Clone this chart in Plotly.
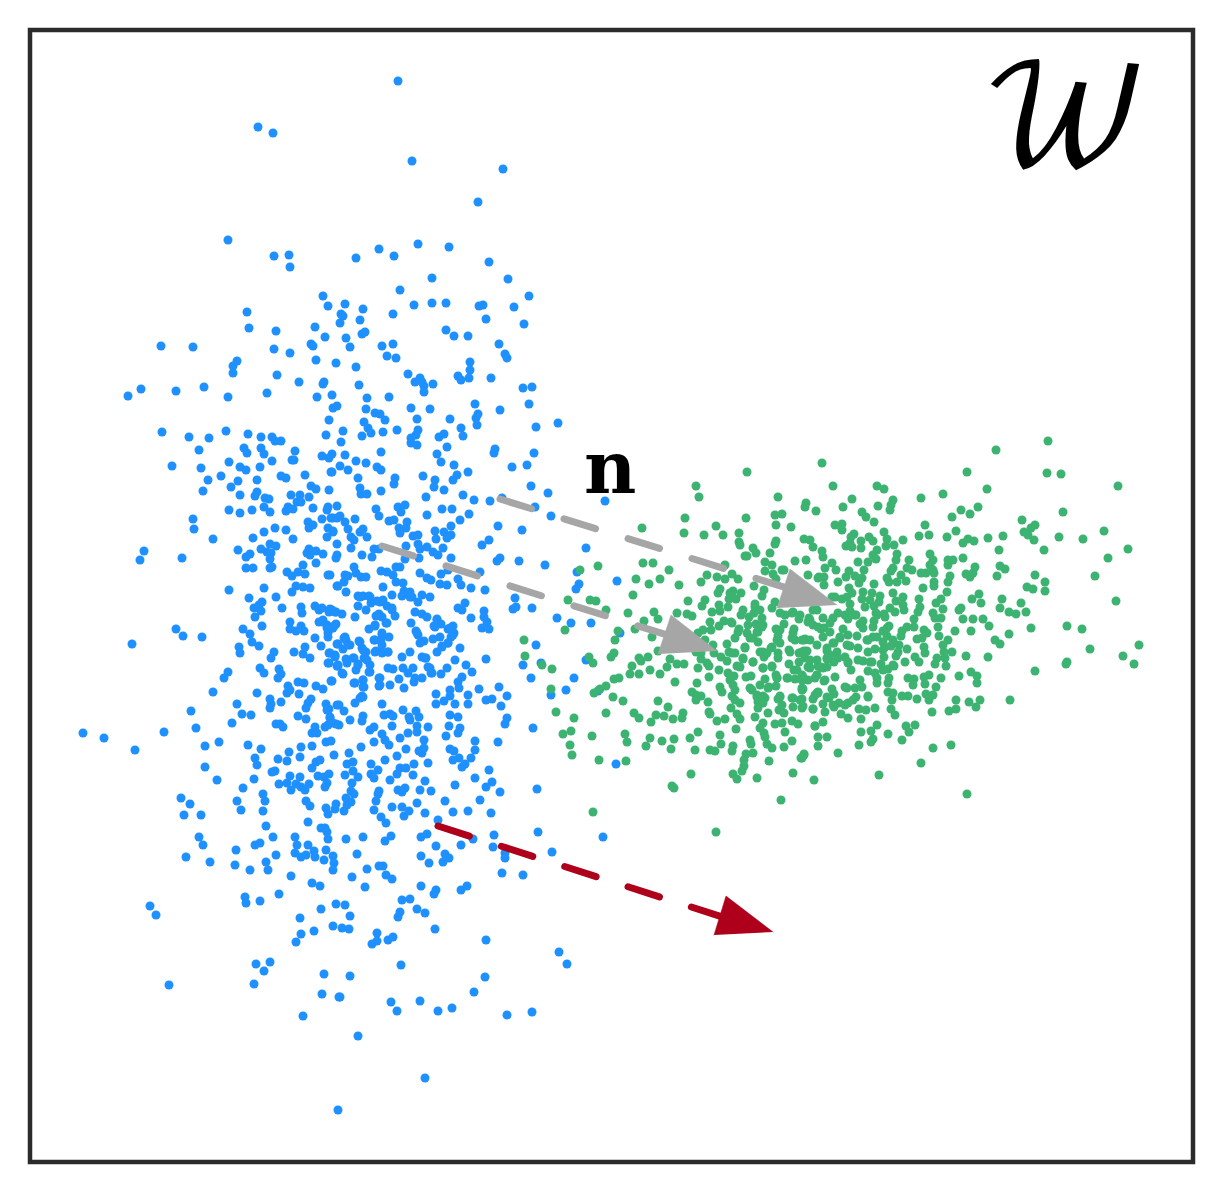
import plotly.graph_objects as go

# point positions, x and y in picture pixels
blue_points = [
    (258,127),(273,133),(228,240),(274,256),(289,255),(290,267),(247,312),(249,328),(276,331),(315,327),
    (161,346),(193,347),(274,349),(290,353),(311,344),(313,346),(316,360),(237,361),(233,366),(233,373),
    (277,375),(299,382),(141,389),(128,396),(176,391),(204,387),(228,397),(267,393),(317,397),(162,432),
    (189,437),(209,438),(226,431),(248,434),(261,437),
    (398,81),(412,161),(503,169),(478,202),(418,244),(449,247),(379,249),(394,256),(356,258),(489,262),
    (432,278),(508,279),(400,290),(323,296),(529,296),(328,306),(345,304),(414,305),(432,303),(446,303),
    (479,306),(483,305),(363,309),(514,307),(341,314),(343,316),(393,314),(360,320),(340,323),(486,319),
    (524,324),(325,337),(346,338),(362,334),(365,332),(446,330),(454,336),(468,336),(393,344),(382,346),
    (350,347),(499,344),(505,354),(507,358),(387,356),(396,358),(336,363),(356,367),(470,362),(470,370),
    (458,376),(461,380),(469,378),(491,378),(408,374),(420,378),(415,382),(422,382),(424,386),(424,392),
    (433,384),(523,388),(532,387),(324,382),(323,384),(359,385),(332,395),(367,398),(389,397),(475,404),
    (529,404),(333,408),(337,406),(366,409),(375,413),(380,414),(385,420),(411,408),(430,409),(417,419),
    (450,419),(478,414),(476,418),(477,425),(500,410),(329,420),(364,422),(368,428),(371,433),(383,432),
    (397,430),(418,430),(416,435),(411,438),(411,443),(417,445),(439,437),(444,434),(461,428),(463,436),
    (536,427),(558,423),(326,435),(343,431),(362,436),(341,442),(447,447),(495,449),(494,453),(534,453),
    (322,456),(332,454),(345,455),(381,452),(437,454),
    (272,437),(275,441),(281,441),(199,450),(244,448),(247,453),(261,448),(264,454),(295,451),(172,466),
    (201,468),(229,462),(240,467),(246,470),(260,467),(272,461),(292,460),(294,460),(329,458),(221,476),
    (208,480),(238,481),(231,487),(257,480),(281,476),(286,478),(305,475),(331,472),(203,491),(240,495),
    (255,496),(257,492),(265,498),(269,499),(291,495),(300,495),(311,486),(316,489),(329,490),(309,497),
    (297,502),(301,502),(229,510),(240,513),(252,510),(264,507),(270,512),(286,511),(288,507),(293,509),
    (313,508),(328,507),(327,510),(337,506),(193,519),(194,529),(322,519),(331,518),(337,518),(308,522),
    (313,525),(309,528),(328,528),(333,531),(275,528),(286,530),(264,532),(253,538),(293,539),(213,539),
    (327,537),(337,544),(270,544),(276,546),(261,549),(267,552),(238,550),(250,554),(246,557),(271,553),
    (270,559),(309,549),(316,551),(307,553),(310,555),(323,554),(337,555),(336,558),(144,551),(140,560),
    (182,558),(316,563),(246,568),(253,568),(270,568),(272,567),(287,572),(292,576),(298,572),(303,565),
    (305,574),(328,575),(337,586),(264,588),(296,586),(292,592),(303,587),(310,588),(229,590),(249,598),
    (276,597),(262,602),(259,605),(254,608),(261,611),(282,608),(255,617),(301,607),(302,613),(315,606),
    (319,610),(322,608),(330,609),(336,612),(329,612),(290,622),(290,629),(296,631),(301,626),(304,631),
    (319,622),(323,620),(327,625),(336,624),(333,628),(328,633),(262,626),(243,629),(250,634),(176,629),
    (183,636),(202,637),(132,644),(252,642),(259,646),(239,647),(240,653),(315,638),(328,637),(337,644),
    (321,646),(274,652),(271,658),(294,652),(305,647),(303,654),(310,658),(329,653),(335,656),(329,663),
    (337,666),(260,668),(264,673),(279,669),(281,674),(278,678),(228,672),(224,678),(298,682),(304,683),
    (331,681),(316,686),(323,689),(288,686),(290,690),(287,693),(299,694),(213,692),(257,693),(270,699),
    (271,704),(270,708),(281,702),(311,699),(308,703),(306,708),(326,704),(329,709),(337,705),(237,704),
    (191,711),(242,714),(251,715),(298,716),(306,719),(330,717),
    (356,461),(366,463),(340,466),(348,470),(377,467),(381,470),(332,472),(358,478),(395,478),(394,484),
    (423,476),(435,480),(434,487),(444,490),(454,465),(457,475),(453,480),(468,472),(441,462),(512,467),
    (527,465),(531,486),(548,493),(360,488),(361,494),(367,494),(381,491),(426,497),(463,495),(474,500),
    (490,501),(502,498),(535,507),(551,516),(376,509),(379,516),(398,507),(405,505),(401,512),(442,509),
    (452,509),(427,515),(469,514),(460,520),(451,526),(498,526),(522,530),(340,516),(333,518),(355,519),
    (345,522),(348,529),(389,521),(394,520),(407,522),(399,528),(406,528),(400,533),(363,529),(360,532),
    (333,532),(367,537),(351,537),(354,540),(435,531),(436,539),(444,532),(451,535),(447,538),(413,536),
    (418,535),(482,545),(489,540),(351,548),(374,549),(379,549),(406,546),(418,544),(420,549),(427,547),
    (443,548),(433,552),(438,555),(419,558),(362,555),(372,557),(405,559),(451,558),(497,561),(500,558),
    (519,561),(545,565),(354,567),(396,567),(400,567),(381,571),(387,572),(393,575),(420,573),(441,574),
    (448,570),(480,572),(427,578),(431,580),(330,575),(345,575),(348,576),(356,573),(361,577),(366,577),
    (396,582),(403,583),(344,582),(338,586),(383,587),(440,584),(447,585),(458,579),(461,585),(471,588),
    (485,590),(346,592),(392,595),(404,591),(410,592),(402,596),(412,597),(422,595),(430,597),(418,602),
    (358,596),(363,596),(369,596),(358,606),(371,603),(377,601),(383,600),(387,606),(392,610),(366,610),
    (332,610),(342,614),(379,614),(376,616),(395,616),(355,617),(382,617),(386,623),(375,626),(369,629),
    (332,628),(415,612),(422,614),(427,617),(411,623),(437,619),(441,624),(434,626),(453,626),(448,629),
    (454,633),(451,637),(458,608),(462,610),(465,603),(484,611),(484,617),(487,622),(482,628),(489,629),
    (471,618),(515,598),(513,609),(516,607),(532,608),(557,618),(416,631),(418,635),(424,641),(433,639),
    (440,637),(442,646),(448,643),(460,648),(437,652),(410,652),(402,657),(536,645),(382,633),(389,637),
    (374,640),(381,640),(344,638),(359,641),(338,644),(346,640),(350,645),(343,649),(362,648),(366,652),
    (376,651),(382,653),(388,652),(335,655),(346,659),(354,658),(347,663),(364,658),(338,666),(358,664),
    (370,665),(356,670),(369,672),(343,674),(388,668),(393,669),(403,668),(413,668),(408,673),(422,657),
    (426,658),(430,668),(431,673),(447,668),(455,660),(466,665),(472,672),(441,674),(486,659),(523,665),
    (541,663),(531,678),(422,678),(415,678),(414,682),(399,679),(379,678),(379,686),(390,685),(404,688),
    (354,683),(363,680),(364,687),(332,681),(458,682),(462,677),(459,688),(479,689),(499,687),(450,690),
    (436,694),(450,696),(444,701),(455,704),(436,704),(468,695),(468,704),(486,700),(492,699),(507,696),
    (501,706),(362,696),(382,704),(355,703),(339,705),(344,711),(403,710),(416,711),(419,717),(384,715),
    (390,714),(393,716),(409,717),(363,716),(450,715),(458,717),(507,718),
    (232,723),(196,728),(164,732),(83,733),(104,738),(135,750),(219,742),(205,746),(248,745),(261,749),
    (255,758),(257,765),(205,767),(278,759),(287,761),(289,752),(301,747),(312,746),(300,757),(272,772),
    (275,771),(217,780),(254,779),(243,788),(279,784),(290,776),(300,777),(287,783),(296,784),(291,790),
    (301,787),(309,784),(305,790),(312,768),(316,762),(320,760),(334,755),(326,742),(331,741),(318,776),
    (324,777),(329,774),(327,783),(325,787),(276,724),(280,724),(283,727),(315,727),(312,733),(317,733),
    (325,727),(328,725),(336,724),(330,718),(327,710),
    (181,798),(190,804),(184,815),(201,815),(199,837),(203,845),(186,857),(210,862),(237,801),(241,810),
    (263,794),(265,801),(263,811),(266,826),(273,837),(255,845),(260,843),(236,850),(235,865),(250,870),
    (266,862),(268,870),(276,855),(291,876),(306,801),(310,806),(308,822),(321,828),(325,828),(327,832),
    (328,839),(295,837),(297,845),(308,845),(295,853),(301,857),(306,855),(314,851),(315,857),(326,850),
    (324,860),(333,856),(334,863),(333,870),(326,808),(328,814),(336,804),(335,809),(312,883),(320,886),
    (279,894),(245,897),(246,903),(260,901),(150,906),(156,915),(300,918),(321,909),(336,904),(333,926),
    (301,934),(314,931),(296,942),(256,964),(270,962),(264,971),(254,984),(169,985),(324,974),(322,994),
    (339,997),(303,1016),(338,1110),
    (333,723),(339,725),(350,720),(362,721),(410,720),(417,726),(428,727),(449,726),(460,728),(458,733),
    (446,736),(505,724),(533,728),(370,730),(374,727),(392,726),(382,734),(385,740),(389,745),(374,742),
    (361,747),(400,738),(408,733),(417,732),(424,740),(406,749),(424,748),(419,751),(422,753),(349,753),
    (475,741),(498,742),(450,749),(454,751),(475,750),(471,758),(459,758),(453,760),(465,764),(462,767),
    (385,760),(397,756),(428,763),(414,764),(371,764),(353,762),(347,764),(345,775),(353,771),(358,777),
    (378,770),(371,774),(374,778),(390,780),(397,774),(400,768),(406,768),(413,775),(489,770),(475,778),
    (352,783),(425,781),(455,785),(492,782),(486,787),(500,792),(537,789),(379,791),(351,791),(354,794),
    (398,790),(405,788),(402,792),(420,790),(431,791),(378,794),(376,801),(346,798),(351,802),(347,805),
    (344,811),(392,807),(402,807),(374,810),(417,803),(445,801),(480,800),(409,811),(404,816),(425,813),
    (453,812),(468,811),(491,813),(381,817),(386,823),(438,820),(363,837),(346,839),(391,836),(385,841),
    (421,837),(427,834),(473,839),(494,835),(538,832),(603,837),(436,846),(461,845),(493,847),(505,853),
    (357,854),(421,856),(445,854),(449,858),(443,862),(429,863),(505,858),(552,852),(379,866),(383,866),
    (367,869),(352,877),(386,875),(392,879),(502,873),(523,875),(365,887),(421,886),(436,890),(434,894),
    (461,890),(467,886),(402,900),(410,899),(345,905),(417,909),(425,913),(400,912),(398,917),(350,916),
    (342,928),(349,929),(435,929),(377,933),(377,941),(372,944),(388,940),(393,937),(486,940),(559,952),
    (567,964),(401,965),(350,976),(485,977),(474,992),(340,997),(391,1002),(397,1011),(420,1001),(438,1011),
    (452,1008),(507,1015),(532,1012),(358,1036),(425,1078),
    (605,501),(586,548),(577,572),(579,584),(576,589),(617,581),(571,623),(591,623),(620,633),(574,678),
    (566,690),(586,660),(551,695),(598,691),(616,764),
    # centre of the blue cloud, second pass
    (360,597),(370,597),(380,602),(392,608),(378,615),(387,623),(375,625),(382,635),(375,640),(382,645),
    (388,652),(375,652),(345,637),(348,645),(360,642),(363,650),(367,660),(353,658),(347,660),(358,665),
    (370,672),(342,673),(338,665),(335,657),(330,653),(328,663),(327,628),(335,625),(323,622),(330,610),
    (335,612),(363,680),(363,687),(355,683),(380,678),(380,685),(417,633),(420,643),(425,658),(428,667),
    (432,673),(450,628),(453,635),(448,643),(442,647),(437,620),(435,627),(407,593),(410,597),(363,697),
    (360,698),
]

green_points = [
    (747,472),(822,463),(696,486),(699,497),(778,497),(806,503),(805,507),(816,511),(685,518),(746,518),
    (775,515),(782,514),(776,525),(791,527),(642,528),(684,533),(704,535),(716,526),(723,535),(739,533),
    (739,542),(740,545),(776,541),(775,544),(804,539),(810,540),(813,547),(753,548),(756,553),(770,553),
    (745,556),(747,556),(822,551),(823,557),(795,561),(806,560),(643,563),(653,563),(669,570),(725,565),
    (765,562),(772,565),(765,571),(782,570),(784,570),(825,568),(598,566),(580,570),(636,579),(660,579),
    (649,584),(679,585),(707,575),(701,582),(717,577),(725,579),(732,574),(738,579),(773,574),(776,579),
    (754,586),(764,590),(808,575),(818,578),(824,577),(633,595),(568,600),(590,600),(596,601),(606,610),
    (688,601),(720,589),(718,593),(730,593),(733,591),(741,593),(729,599),(736,599),(762,596),(705,600),
    (702,606),(719,605),(712,612),(720,611),(728,607),(755,604),(760,610),(775,602),(772,608),(628,613),
    (654,612),(677,613),(687,614),(692,616),(658,619),(644,621),(743,610),(741,615),(754,613),(749,617),
    (793,612),(785,615),(799,619),(809,618),(565,630),(618,631),(615,640),(635,629),(652,637),(710,622),
    (703,630),(711,630),(698,633),(724,621),(731,622),(719,626),(756,624),(762,627),(757,632),(747,633),
    (739,629),(776,629),(784,624),(794,629),(793,633),(778,636),(808,622),(821,629),(524,640),(705,640),
    (735,638),(727,644),(750,638),(758,642),(780,643),(795,640),(804,640),(817,645),(713,645),(729,652),
    (745,647),(763,652),(771,648),(778,653),(789,650),(799,653),(807,651),(827,648),(525,656),(542,665),
    (552,669),(551,689),(589,657),(593,663),(614,653),(611,657),(658,651),(639,658),(641,661),(648,657),
    (670,659),(696,652),(701,653),(701,659),(714,653),(721,657),(727,661),(707,663),(709,666),(764,657),
    (778,658),(743,659),(753,662),(789,664),(799,662),(808,667),(827,658),(632,666),(650,670),(667,667),
    (677,664),(684,664),(698,668),(719,670),(737,666),(763,668),(772,666),(794,670),(818,666),(823,668),
    (630,674),(639,674),(660,674),(728,673),(734,676),(746,677),(751,676),(776,675),(802,675),(808,680),
    (817,675),(606,686),(614,679),(619,678),(709,677),(675,682),(697,683),(730,680),(765,679),(777,678),
    (787,678),(795,679),(825,680),(600,689),(594,693),(720,687),(733,685),(750,688),(769,687),(776,686),
    (802,688),(623,701),(613,697),(692,692),(696,695),(701,696),(722,692),(732,696),(757,695),(763,696),
    (780,696),(818,692),(815,695),(658,701),(696,700),(708,702),(740,703),(758,702),(765,698),(778,699),
    (793,698),(802,699),(813,699),(556,712),(668,707),(606,713),(634,713),(639,718),(656,715),(664,716),
    (673,719),(683,713),(682,718),(709,712),(710,714),(731,708),(737,714),(758,708),(768,713),(779,710),
    (784,713),(793,707),(802,708),(813,709),(825,712),(574,718),(651,722),(717,721),(725,719),(740,719),
    (755,717),(775,724),(782,723),(792,721),(798,724),(823,722),(571,731),(563,734),(592,736),(625,734),
    (698,732),(736,729),(763,723),(760,728),(764,733),(785,732),(815,726),(570,745),(627,742),(650,738),
    (646,746),(662,741),(674,739),(690,738),(720,735),(721,744),(750,740),(751,744),(765,737),(767,744),
    (792,741),(818,737),(818,746),(572,755),(671,749),(695,750),(710,750),(715,751),(733,746),(732,751),
    (772,748),(784,747),(599,760),(626,761),(746,754),(753,753),(804,754),(801,758),(769,761),(744,760),
    (744,766),(742,771),(691,774),(733,774),(737,779),(757,778),(793,773),(814,780),(672,786),(674,788),
    (781,800),(593,812),(716,832),
    (1048,441),(996,450),(967,472),(1047,473),(1061,474),(833,486),(877,486),(884,489),(987,489),(1118,486),
    (943,494),(921,498),(852,499),(893,500),(891,505),(890,510),(843,507),(878,506),(862,512),(866,517),
    (961,510),(978,507),(970,514),(952,517),(1063,512),(1022,520),(874,522),(835,525),(842,524),(842,530),
    (925,525),(1035,525),(1031,528),(1024,532),(1104,531),(956,531),(884,532),(854,534),(851,537),(869,537),
    (887,539),(919,536),(929,535),(947,537),(988,538),(1003,536),(1028,535),(1059,537),(1083,539),(968,539),
    (963,543),(974,541),(1034,540),(873,541),(861,541),(903,540),(846,546),(850,543),(852,547),(861,548),
    (886,546),(894,545),(999,550),(1044,550),(1128,549),(877,550),(873,555),(897,554),(930,554),(876,559),
    (896,560),(909,560),(933,560),(948,560),(953,560),(963,558),(1108,558),(858,562),(832,563),(868,562),
    (948,565),(930,565),(849,571),(836,570),(864,570),(893,568),(907,568),(912,570),(933,570),(975,567),
    (1000,566),(1005,569),(921,573),(926,573),(819,577),(846,577),(855,576),(862,578),(891,571),(901,575),
    (934,573),(966,574),(973,573),(970,577),(997,576),(1035,575),(950,576),(1095,576),(887,578),(889,582),
    (897,582),(906,581),(948,582),(934,582),(934,586),(1045,582),(838,582),(824,585),(859,583),(874,584),
    (1027,587),(1033,589),(1045,591),(923,588),(849,588),(947,592),(893,593),(979,594),(852,593),(863,592),
    (872,593),(880,596),(903,597),(972,599),(1002,599),(1116,601),(1021,603),(981,603),(835,597),(842,599),
    (862,599),(941,599),(919,599),(896,601),(936,603),(879,602),(850,604),(865,607),(903,605),(874,606),
    (920,607),(943,609),(1000,608),(961,608),(959,610),(1009,612),(1016,614),(1026,612),(813,610),(838,613),
    (850,611),(856,615),(876,613),(884,614),(904,610),(895,612),(918,612),(933,613),(823,618),(833,618),
    (848,619),(863,621),(874,621),(889,626),(914,619),(935,618),(941,618),(963,619),(973,619),(983,619),
    (813,625),(824,628),(843,629),(860,624),(914,627),(907,627),(938,627),(989,626),(1031,628),(1067,626),
    (1082,629),(830,632),(848,635),(883,631),(887,636),(902,631),(924,630),(927,633),(955,631),(971,631),
    (1009,634),(823,637),(840,637),(857,636),(873,637),(901,636),(917,639),(939,636),(948,640),(995,640),
    (1000,644),(805,639),(834,643),(850,646),(868,640),(883,642),(922,638),(943,645),(891,646),(899,645),
    (1139,645),(924,647),(1090,649),(804,651),(827,651),(837,652),(868,652),(875,649),(883,650),(907,649),
    (898,652),(952,652),(925,653),(944,652),(845,657),(858,660),(884,657),(896,656),(915,657),(945,658),
    (966,656),(988,657),(1123,656),(805,658),(817,660),(827,659),(863,661),(905,662),(919,662),(937,658),
    (935,664),(1134,664),(1067,662),(1066,664),(834,662),(848,663),(872,662),(809,666),(821,667),(946,666),
    (881,664),(894,666),(851,670),(868,671),(888,669),(875,673),(1035,671),(971,672),(977,676),(959,676),
    (929,675),(941,678),(924,677),(908,678),(914,679),(835,677),(815,678),(803,677),(824,681),(860,680),
    (889,678),(877,683),(888,683),(925,684),(977,683),(913,685),(936,687),(845,687),(855,688),(832,689),
    (803,689),(888,692),(893,693),(926,694),(933,695),(817,693),(834,694),(856,697),(868,696),(829,698),
    (902,696),(908,696),(892,700),(917,699),(929,700),(956,700),(969,702),(980,700),(1010,700),(848,703),
    (839,703),(823,704),(803,706),(813,709),(834,707),(859,709),(875,708),(866,710),(891,709),(976,707),
    (956,709),(949,711),(932,712),(841,714),(895,715),(861,719),(848,718),(815,726),(877,725),(906,726),
    (915,725),(861,732),(871,731),(888,734),(909,732),(827,737),(873,739),(871,742),(902,740),(859,745),
    (933,748),(951,745),(838,753),(804,755),(802,758),(921,763),(879,775),(967,794),
    # centre of the green cloud, second pass
    (755,607),(762,618),(763,625),(758,632),(753,638),(745,648),(735,653),(738,632),(732,623),(748,625),
    (780,630),(777,640),(792,638),(802,640),(810,640),(790,652),(802,652),(810,660),(810,668),(797,670),
    (788,678),(802,680),(817,675),(827,667),(830,655),(833,643),(840,638),(847,645),(838,658),(848,662),
    (858,648),(867,640),(877,637),(873,627),(863,628),(855,615),(845,615),(830,623),(818,627),(810,620),
    (817,610),(800,615),(792,613),(780,613),(832,597),(847,597),(870,600),(877,615),(885,617),(890,608),
    (887,628),(893,640),(885,647),(870,662),(877,678),(883,670),(893,665),(847,688),(862,687),(868,697),
    (853,700),(845,705),(833,705),(827,697),(818,693),(802,690),(800,700),(792,698),(780,697),(782,705),
    (768,688),(760,685),(752,690),(757,697),(763,703),(735,690),(735,700),(740,667),(743,658),(753,662),
    (763,668),(772,667),(777,678),(767,653),(760,652),(772,647),(732,653),
]

# arrows: shaft start and end, then the three corners of the head
gray_shaft_1 = [(500,499),(800,592)]
gray_head_1 = [(837,605),(790,569),(777,608)]
gray_shaft_2 = [(382,546),(680,639)]
gray_head_2 = [(717,651),(671,615),(658,654)]
red_shaft = [(438,826),(735,921)]
red_head = [(773,932),(726,896),(714,935)]

GRAY = "#a6a6a6"
RED = "#ae001a"

fig = go.Figure()
fig.add_trace(go.Scatter(x=[p[0] for p in blue_points], y=[p[1] for p in blue_points], mode="markers",
                         marker=dict(color="#1e90ff", size=9)))
fig.add_trace(go.Scatter(x=[p[0] for p in green_points], y=[p[1] for p in green_points], mode="markers",
                         marker=dict(color="#3cb371", size=9)))

for shaft, head, color, dash in [(gray_shaft_1, gray_head_1, GRAY, "33px,34px"),
                                 (gray_shaft_2, gray_head_2, GRAY, "33px,34px"),
                                 (red_shaft, red_head, RED, "33px,33.5px")]:
    fig.add_trace(go.Scatter(x=[p[0] for p in shaft], y=[p[1] for p in shaft], mode="lines",
                             line=dict(color=color, width=7, dash=dash)))
    fig.add_trace(go.Scatter(x=[p[0] for p in head], y=[p[1] for p in head], mode="lines", fill="toself",
                             fillcolor=color, line=dict(color=color, width=0.5)))

fig.add_annotation(x=610, y=467, text="<b>n</b>", showarrow=False,
                   font=dict(family="DejaVu Serif", size=72, color="black"))
fig.add_annotation(x=1065, y=124, text="𝒲", showarrow=False,
                   font=dict(family="DejaVu Math TeX Gyre, DejaVu Serif", size=136, color="black"))

# frame
fig.add_shape(type="rect", xref="paper", yref="paper", x0=0, y0=0, x1=1, y1=1,
              line=dict(color="#2b2b2b", width=4.5))

fig.update_layout(
    width=1224,
    height=1195,
    autosize=False,
    showlegend=False,
    plot_bgcolor="white",
    paper_bgcolor="white",
    margin=dict(l=30, r=31, t=30, b=33),
    xaxis=dict(range=[30, 1193], visible=False),
    yaxis=dict(range=[1162, 30], visible=False),
)

# page margin off, rounded dash ends
fig.write_html("out.html", config=dict(displayModeBar=False), post_script="""
document.body.style.margin = '0';
document.querySelectorAll('.scatterlayer .js-line').forEach(function (p) { p.style.strokeLinecap = 'round'; });
""")
